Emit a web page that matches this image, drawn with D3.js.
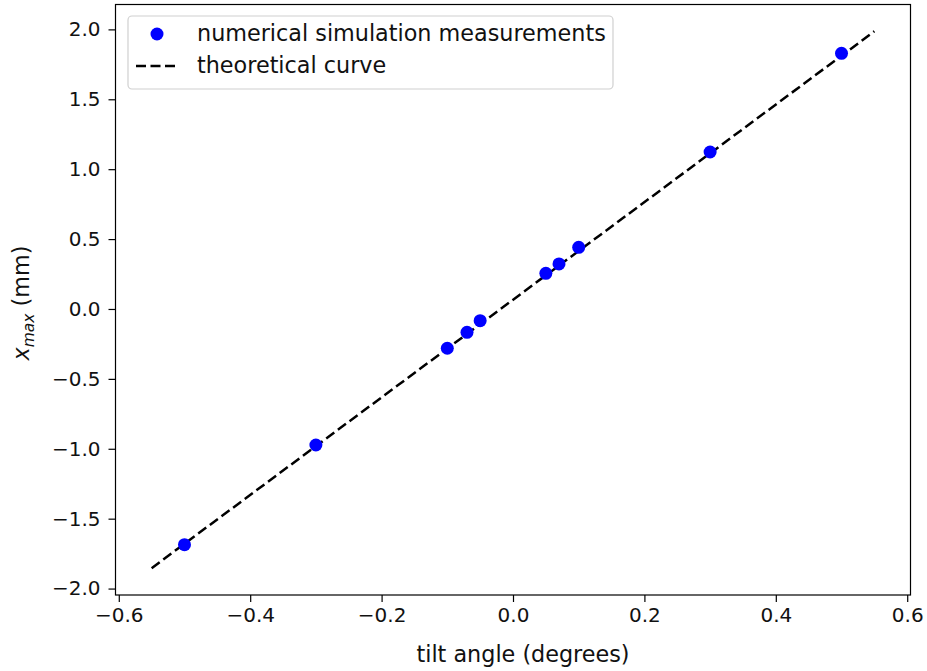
<!DOCTYPE html>
<html>
<head>
<meta charset="utf-8">
<script src="https://cdn.jsdelivr.net/npm/d3@7"></script>
<style>
  html, body { margin: 0; padding: 0; background: #fff; }
  svg { display: block; font-family: "DejaVu Sans", sans-serif; }
</style>
</head>
<body>
<svg id="chart" width="927" height="671"></svg>
<script>
// Tilt angle (degrees) of each simulation run and the measured x_max (mm)
const tiltAngles = [-0.5, -0.3, -0.1, -0.07, -0.05, 0.05, 0.07, 0.1, 0.3, 0.5];
const xMaxValues = [-1.686, -0.973, -0.281, -0.167, -0.084, 0.255, 0.322, 0.441, 1.123, 1.829];

// Theoretical curve: straight line sampled at its two end points
const theoryAngles = [-0.55, 0.55];
const theoryValues = [-1.854, 1.986];

const xTicks = [-0.6, -0.4, -0.2, 0.0, 0.2, 0.4, 0.6];
const yTicks = [-2.0, -1.5, -1.0, -0.5, 0.0, 0.5, 1.0, 1.5, 2.0];

const TICK_FONT = "20px";
const LABEL_FONT = "22.3px";
const svg = d3.select("#chart");
const plot = { left: 115.5, right: 910.5, top: 4.5, bottom: 595 };

const x = d3.scaleLinear().domain([-0.605, 0.605]).range([plot.left, plot.right]);
const y = d3.scaleLinear().domain([-2.046, 2.178]).range([plot.bottom, plot.top]);

const fmt = v => (v < 0 ? "\u2212" : "") + Math.abs(v).toFixed(1);

// Theoretical curve
const line = d3.line().x((d, i) => x(theoryAngles[i])).y(d => y(d));
svg.append("path")
  .datum(theoryValues)
  .attr("d", line)
  .attr("fill", "none")
  .attr("stroke", "#000")
  .attr("stroke-width", 2.5)
  .attr("stroke-dasharray", "10,4.5");

// Measurements
svg.append("g").selectAll("circle")
  .data(tiltAngles)
  .join("circle")
  .attr("cx", d => x(d))
  .attr("cy", (d, i) => y(xMaxValues[i]))
  .attr("r", 6.5)
  .attr("fill", "#0000ff");

// Axes
const xAxis = d3.axisBottom(x).tickValues(xTicks).tickFormat(fmt).tickSize(7).tickPadding(6);
const yAxis = d3.axisLeft(y).tickValues(yTicks).tickFormat(fmt).tickSize(7).tickPadding(8);

const gx = svg.append("g").attr("transform", `translate(0,${plot.bottom})`).call(xAxis);
const gy = svg.append("g").attr("transform", `translate(${plot.left},0)`).call(yAxis);
[gx, gy].forEach(g => {
  g.attr("font-size", null).attr("font-family", null);
  g.select(".domain").remove();
  g.selectAll(".tick line").attr("stroke", "#000").attr("stroke-width", 1.2);
  g.selectAll(".tick text").attr("fill", "#111").style("font-size", TICK_FONT);
});

// Frame
svg.append("rect")
  .attr("x", plot.left).attr("y", plot.top)
  .attr("width", plot.right - plot.left).attr("height", plot.bottom - plot.top)
  .attr("fill", "none").attr("stroke", "#000").attr("stroke-width", 1.2);

// Axis labels
svg.append("text")
  .attr("x", (plot.left + plot.right) / 2 + 10).attr("y", 662)
  .attr("text-anchor", "middle").attr("fill", "#111").style("font-size", LABEL_FONT)
  .text("tilt angle (degrees)");

const yl = svg.append("text")
  .attr("transform", `translate(29,303) rotate(-90)`)
  .attr("text-anchor", "middle").attr("fill", "#111").style("font-size", LABEL_FONT);
yl.append("tspan").style("font-style", "italic").text("x");
yl.append("tspan").attr("dy", 5).style("font-size", "15.5px").style("font-style", "italic").text("max");
yl.append("tspan").attr("dy", -5).text(" (mm)");

// Legend
const lg = svg.append("g");
lg.append("rect")
  .attr("x", 128).attr("y", 16).attr("width", 485).attr("height", 73).attr("rx", 4)
  .attr("fill", "#fff").attr("fill-opacity", 0.8)
  .attr("stroke", "#d0d0d0").attr("stroke-width", 1.2);
lg.append("circle").attr("cx", 157).attr("cy", 34).attr("r", 6.5).attr("fill", "#0000ff");
lg.append("line").attr("x1", 136).attr("x2", 178).attr("y1", 66).attr("y2", 66)
  .attr("stroke", "#000").attr("stroke-width", 2.5).attr("stroke-dasharray", "10,4.5");
lg.append("text").attr("x", 197).attr("y", 41).attr("fill", "#111").style("font-size", LABEL_FONT)
  .text("numerical simulation measurements");
lg.append("text").attr("x", 197).attr("y", 73).attr("fill", "#111").style("font-size", LABEL_FONT)
  .text("theoretical curve");
</script>
</body>
</html>
